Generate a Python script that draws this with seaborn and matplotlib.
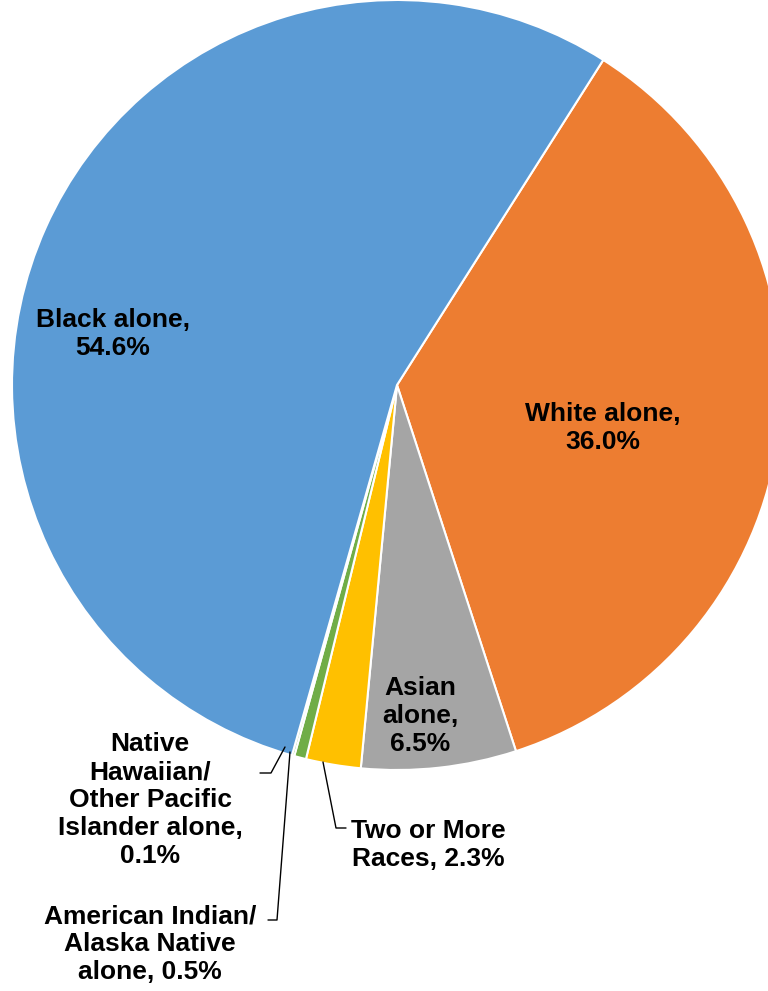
import matplotlib
matplotlib.use("Agg")
import matplotlib.pyplot as plt
import seaborn as sns

# data (clockwise from the top right)
groups = ["White alone", "Asian alone", "Two or More Races",
          "American Indian/Alaska Native alone",
          "Native Hawaiian/Other Pacific Islander alone", "Black alone"]
shares = [36.0, 6.5, 2.3, 0.5, 0.1, 54.6]
labels = ["White alone,\n36.0%", "Asian\nalone,\n6.5%", "Two or More\nRaces, 2.3%",
          "American Indian/\nAlaska Native\nalone, 0.5%",
          "Native\nHawaiian/\nOther Pacific\nIslander alone,\n0.1%",
          "Black alone,\n54.6%"]
colors = ["#ED7D31", "#A5A5A5", "#FFC000", "#70AD47", "#70AD47", "#5B9BD5"]

sns.set_theme(style="white")
plt.rcParams['font.family'] = ['Liberation Sans', 'DejaVu Sans']

W, H = 768, 991
CX, CY, R = 397, 385, 385

def px(x, y):
    return (x - CX) / R, (CY - y) / R

fig = plt.figure(figsize=(W / 100, H / 100), dpi=100)
ax = fig.add_axes([0, 0, 1, 1])
ax.pie(shares, colors=colors, startangle=57.6, counterclock=False, radius=1,
       wedgeprops=dict(edgecolor="white", linewidth=1.5))
ax.set_xlim(px(0, 0)[0], px(W, 0)[0])
ax.set_ylim(px(0, H)[1], px(0, 0)[1])
ax.set_aspect("equal")
ax.axis("off")

txt = dict(fontsize=19, fontweight="bold", color="black", ha="center", va="center",
           linespacing=1.2)

pos = [(603, 428), (420, 716), (428, 845), (150, 944), (150, 800), (113, 334)]
for lab, (x, y) in zip(labels, pos):
    ax.text(*px(x, y), lab, **txt)

# leader lines
leaders = [
    [(323, 762), (336, 828), (346, 828)],
    [(290, 752), (277, 920), (268, 920)],
    [(285, 747), (271, 773), (260, 773)],
]
for pts in leaders:
    xs, ys = zip(*[px(x, y) for x, y in pts])
    ax.plot(xs, ys, color="black", linewidth=1)

fig.savefig("out.png", dpi=100)
